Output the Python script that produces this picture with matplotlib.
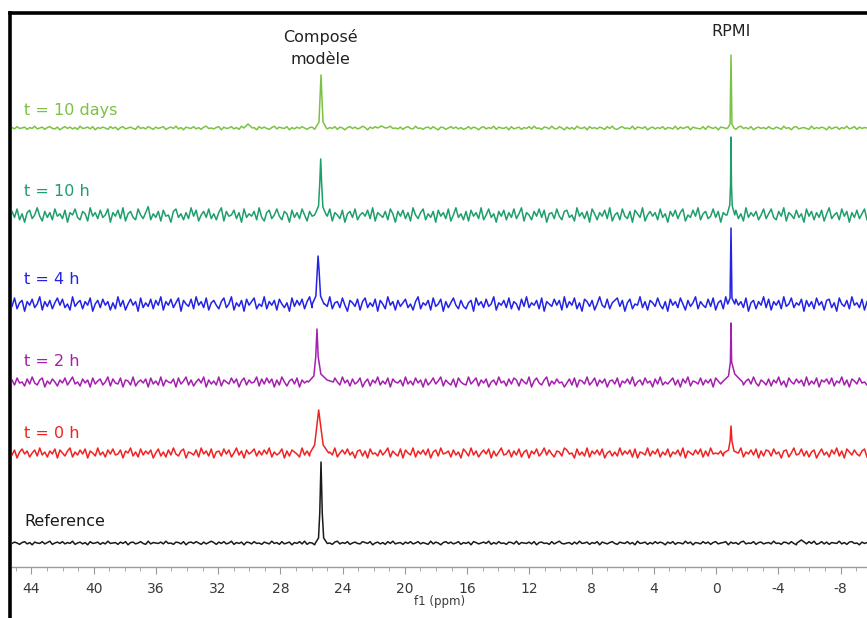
import numpy as np
import matplotlib
matplotlib.use("Agg")
import matplotlib.pyplot as plt
from matplotlib.lines import Line2D

plt.rcParams['axes.unicode_minus'] = False

# ppm window shown on the axis
ppm_left, ppm_right = 45.25, -9.7

labels = ['t = 10 days', 't = 10 h', 't = 4 h', 't = 2 h', 't = 0 h', 'Reference']
colors = ['#7cc242', '#1e9e6a', '#2323e6', '#a41fae', '#f02222', '#1a1a1a']
offsets = [439, 352, 263, 185, 114, 24]          # vertical stacking of the spectra
label_y = [457, 375, 287, 205, 134, 45]
noise_unit = [0.45, 1.2, 1.2, 1.0, 1.0, 0.45]    # size of one noise step per trace

# baseline noise read (roughly) off each trace
noise_10d = [1, -2, 3, -1, 0, 2, -3, 1, -1, 4, -2, 0, 2, -3, 1, 3, -1, -2, 2, -4,
             0, 3, -1, 2, -2, 1, -3, 4, -1, 0, 2, -2, 3, -4, 1, -1, 2, 0, -3, 3,
             -1, 2, -4, 1, 3, -2, 0, 2, -1, -3, 4, -1, 1, -2, 3, 0, -3, 2, -1, 1,
             3, -3, 0, 2, -1, 4, -2, 1, -4, 2, 0, -1, 3, -2, 1, -3, 2, 4, -1, 0,
             -2, 1, 3, -4, 2, -1, 0, 3, -2, 1, -3, 4, -1, 2, 0, -2, 1, -4, 3, -1,
             2, -1, -3, 1, 4, -2, 2, 0, -1, 3, -4, 1, -2, 2, -1, 3, 0, -3, 1, 2,
             -3, 4, -1, 0, 2, -2, 1, -1, 3, -3, 2, 0, -4, 1, 3, -1, 2, -2, 0, 4,
             1, -4, 2, -1, 3, 0, -2, 2, -3, 1, 4, -1, 0, -2, 2, -3, 1, 3, -1, -2,
             4, -1, 0, -3, 1, 2, -2, 3, -1, -4, 2, 1, -3, 0, 3, -1, 2, -2, 1, -3,
             -1, 3, -2, 2, 0, -4, 1, 3, -2, 1, -1, 4, -3, 2, 0, -1, 2, -4, 3, -2,
             0, 2, -3, 1, -1, 3, -2, 4, -1, 0, -3, 2, 1, -2, 4, -1, -2, 3, 0, -4,
             2, -2, 1, -3, 4, 0, -1, 2, -4, 3, -1, 1, -2, 2, 0, -3, 3, -1, 4, -2,
             -3, 1, 3, -1, 0, -2, 4, -3, 2, 1, -1, 3, -4, 0, 2, -2, 1, -1, 3, -3,
             1, 0, -2, 4, -3, 2, -1, 1, 3, -4, 2, 0, -1, -2, 3, -3, 4, 1, -1, 2,
             -4, 2, 1, -1, 3, -2, 0, -3, 2, 4, -1, 1, -2, 3, -4, 0, 2, -1, 1, -2,
             3, -1, -2, 2, 0, -3, 4, -1, 1, -4, 2, 3, -2, 0, 1, -1, -3, 4, -2, 1,
             -1, 2, 0, -4, 3, -2, 1, 2, -3, 1, -1, 4, -2, 0, 3, -3, 2, -1, 1, 0]
noise_10h = [3, -2, 5, -4, 1, -6, 2, 4, -3, 0, 6, -1, -5, 3, -2, 2, -4, 5, -1, 1,
             -3, 4, -6, 2, 0, 5, -2, -4, 3, 1, -5, 6, -1, 2, -3, 4, -2, 0, 5, -6,
             2, -1, 4, -3, 6, -5, 1, 3, -2, -4, 5, 0, -3, 2, 7, -4, 1, -2, 3, -5,
             4, -1, 0, -6, 3, 5, -2, 1, -4, 2, -3, 6, -1, 4, -5, 0, 3, -2, 5, -3,
             1, -4, 2, 6, -5, 3, -1, 0, 4, -3, 2, -6, 5, -2, 1, -1, 3, -4, 6, -2,
             -5, 2, 4, -3, 0, 5, -1, -4, 3, 1, -6, 4, -2, 2, -3, 5, 0, -5, 3, -1,
             6, -2, 1, -4, 3, -1, 5, -5, 2, 0, -3, 4, -6, 1, 3, -2, 5, -4, 0, 2,
             -1, 4, -3, 6, -5, 2, 0, -2, 3, -4, 5, 1, -6, 3, -1, 4, -3, 2, -5, 6,
             0, -3, 2, 5, -4, 1, -2, 3, -6, 4, -1, 2, -3, 5, -5, 0, 6, -2, 1, -4,
             3, -5, 4, -1, 2, -3, 6, -4, 0, 5, -2, 1, -6, 3, -1, 4, -4, 2, -2, 5,
             -3, 1, 6, -5, 2, 0, -4, 3, -1, 5, -2, 4, -6, 1, 2, -3, 5, -1, -4, 3,
             4, -2, 0, -5, 6, -1, 2, -3, 3, -6, 5, 1, -4, 2, -1, 4, -3, 6, -5, 0,
             2, -4, 5, -1, -3, 3, -6, 4, 1, -2, 6, -5, 0, 3, -1, 2, -4, 5, -2, 1,
             -6, 3, -1, 4, -3, 2, 5, -5, 0, -2, 4, -1, 6, -4, 1, 3, -3, -1, 5, -2,
             3, -6, 2, 0, -4, 5, -1, 4, -3, 1, -5, 6, -2, 2, -1, 3, -4, 0, 5, -3,
             1, 5, -2, -4, 3, -1, 6, -5, 2, 0, -3, 4, -2, 1, -6, 5, -1, 3, -4, 2,
             -2, 4, -5, 1, 6, -3, 0, 2, -4, 5, -1, 3, -6, 2, -2, 4, -3, 1, 5, -4]
noise_4h = [-2, 5, -4, 1, 3, -6, 2, -1, 4, -3, 0, 6, -5, 2, -2, 3, -4, 1, 5, -1,
            4, -3, 0, -5, 6, -2, 1, 3, -4, 2, -1, 5, -6, 0, 3, -3, 4, -1, 2, -5,
            1, -4, 6, -2, 3, -5, 0, 4, -1, 2, -6, 5, -3, 1, -2, 4, -4, 3, -1, 6,
            -5, 2, -1, 4, -3, 1, 5, -6, 3, 0, -2, 4, -4, 6, -1, 2, -3, 5, -5, 1,
            3, -1, -4, 2, 5, -3, 0, 6, -5, 1, -2, 3, -6, 4, -1, 2, 5, -4, 0, -2,
            6, -4, 2, -1, 3, -5, 4, 0, -3, 1, -6, 5, -2, 3, -1, 4, -4, 2, 6, -3,
            -1, 3, -5, 4, 0, -2, 6, -4, 1, 2, -3, 5, -1, -6, 3, 1, -2, 4, -5, 2,
            5, -3, 1, -2, 4, -6, 3, 0, -4, 6, -1, 2, -5, 3, -2, 1, 4, -3, 0, -5,
            2, 6, -4, 1, -1, 3, -5, 5, -2, 0, 4, -6, 2, -3, 1, 5, -1, -4, 3, -2,
            -4, 1, 3, -6, 5, -1, 2, -3, 4, -2, 0, 6, -5, 1, -1, 3, -3, 5, -4, 2,
            0, -5, 4, -2, 6, -3, 1, -1, 3, -4, 5, -6, 2, 0, -2, 4, -1, 3, -5, 6,
            -3, 2, -1, 5, -4, 1, -6, 4, 2, -2, 3, -5, 0, 6, -1, -3, 4, -4, 1, 3,
            5, -2, 3, -6, 1, 4, -4, 0, -1, 6, -3, 2, -5, 3, 1, -2, 5, -1, -4, 2,
            -6, 4, -1, 2, -3, 5, 0, -5, 3, -2, 1, 6, -4, 2, -1, -3, 4, -2, 5, -5,
            1, 3, -4, 6, -2, 0, -5, 4, -1, 2, -3, 5, -6, 1, 3, -4, 2, -1, 6, -3,
            4, -5, 2, -1, 3, -4, 6, -2, 0, 5, -3, 1, -1, 4, -6, 3, -2, 2, -4, 5,
            -1, 2, -5, 3, 4, -3, 1, -6, 5, 0, -2, 3, -4, 6, -1, 1, -3, 4, -5, 2]
noise_2h = [2, -3, 4, -1, 0, -4, 3, -2, 5, -1, -3, 2, 4, -5, 1, -2, 3, 0, -4, 2,
            -1, 4, -3, 1, 5, -2, 0, -4, 3, -1, 2, -5, 4, -2, 1, 3, -3, 0, 5, -4,
            3, -1, -2, 4, -5, 2, 1, -3, 5, -4, 0, 2, -1, 3, -5, 4, -2, 1, -3, 5,
            -4, 2, 0, -1, 3, -5, 4, -2, 1, 5, -3, 2, -4, 0, 3, -1, 5, -5, 2, -2,
            1, -3, 5, -4, 2, 0, -2, 4, -1, 3, -5, 1, 4, -3, 2, -1, 0, 5, -4, 3,
            -2, 4, -1, 3, -5, 2, -3, 5, 0, -4, 1, 3, -2, 4, -5, 2, -1, 1, 3, -3,
            5, -2, 1, -4, 3, -1, 2, -5, 4, 0, -3, 5, -1, 2, -4, 3, -2, 0, 4, -5,
            0, 3, -4, 2, -1, 5, -3, 1, -2, 4, -5, 3, 0, -1, 2, -4, 5, -2, 1, -3,
            4, -1, 2, -5, 3, -3, 0, 4, -2, 1, 5, -4, 2, -1, -3, 3, -5, 4, 0, -2,
            -3, 5, -2, 1, 4, -4, 2, -1, 3, -5, 0, 2, -3, 5, -1, 1, -4, 3, -2, 4,
            2, -4, 3, 0, -2, 5, -5, 1, 4, -1, -3, 2, 5, -4, 1, -2, 3, -1, 0, -5,
            -1, 3, -3, 4, -5, 2, 1, -2, 5, -3, 0, 4, -4, 2, -1, 3, -5, 1, 2, -2,
            4, -5, 1, -1, 3, -2, 5, -4, 0, 2, -3, 4, -1, 1, -5, 3, -2, 5, -3, 0,
            -2, 1, 4, -3, 2, -5, 3, -1, 5, -4, 1, 0, -2, 4, -3, 2, -1, 3, -5, 4,
            1, -2, 5, -4, 0, 3, -1, 2, -5, 4, -3, 1, 3, -2, 5, -1, -4, 2, 0, -3,
            3, -4, 2, -1, 5, -3, 1, -5, 4, 0, -2, 3, -1, 2, -4, 5, -3, 1, -2, 4,
            -5, 2, 0, 3, -2, 4, -4, 1, -1, 5, -3, 2, -5, 3, 1, -2, 4, -1, 0, -3]
noise_0h = [-2, 3, -5, 1, 4, -1, 2, -4, 0, 3, -3, 5, -2, 1, -4, 2, -1, 4, -5, 3,
            0, -3, 2, 5, -4, 1, -2, 3, -1, 4, -5, 2, 0, -3, 5, -2, 1, -4, 3, -1,
            4, -2, -1, 3, -5, 2, 0, 5, -3, 1, -4, 4, -2, 2, -1, 3, -5, 0, 4, -3,
            1, -4, 3, -2, 5, -1, -3, 2, 4, -5, 1, 0, -2, 3, -4, 5, -1, 2, -3, 4,
            -5, 1, 2, -3, 4, -1, 3, -4, 0, 5, -2, 2, -5, 3, -1, 1, 4, -3, 2, -2,
            3, -1, 5, -4, 1, -2, 0, 4, -5, 2, -3, 3, 1, -1, -4, 5, -2, 2, -3, 0,
            -1, 4, -3, 2, -5, 3, 1, -2, 5, -4, 0, 3, -1, 4, -2, 1, -5, 2, 3, -3,
            2, -5, 4, -1, 0, -3, 3, -2, 1, 5, -4, 2, -1, -3, 4, -5, 3, 0, -2, 5,
            -4, 2, -1, 3, -2, 4, -5, 1, 3, -3, 5, -1, 0, 2, -4, 3, -2, 1, -5, 4,
            1, -3, 5, -2, 2, -4, 0, 3, -1, 4, -5, 2, -3, 1, 5, -2, -1, 3, -4, 2,
            -2, 4, -4, 1, 3, -5, 2, -1, 4, -3, 0, 5, -2, 3, -1, -4, 2, 1, -3, 5,
            3, -1, 0, -5, 4, -2, 1, -3, 5, -4, 2, -1, 3, -2, 4, -5, 0, 2, -3, 1,
            -3, 5, -2, 2, -1, 3, -4, 4, -5, 1, 0, -2, 5, -3, 2, -1, 4, -4, 1, -2,
            4, -4, 1, -1, 3, -3, 5, -5, 2, 0, -2, 3, -1, 4, -4, 2, -3, 5, -1, 0,
            -1, 2, -3, 4, -5, 1, 3, -2, 0, 5, -4, 1, -1, 3, -2, 4, -5, 2, -3, 3,
            2, -3, 4, -1, 1, -5, 2, 3, -4, 0, 5, -2, -1, 4, -3, 2, -4, 1, 3, -5,
            0, 4, -2, 1, -4, 3, -1, 5, -3, 2, -5, 4, 1, -2, 3, -1, -3, 2, 4, -4]
noise_ref = [-1, 2, 0, -3, 1, 3, -2, 1, -4, 2, 0, -1, 3, -2, 1, 4, -3, 0, 2, -1,
             3, -2, 1, -1, 4, -3, 0, 2, -2, 1, -4, 3, -1, 0, 2, -3, 1, -2, 4, -1,
             0, 1, -3, 2, -1, 3, -4, 1, 2, -2, 0, 3, -1, -3, 4, -2, 1, 0, -1, 2,
             -2, 4, -1, 0, -3, 2, 1, -2, 3, -4, 1, 2, -1, 3, 0, -3, 2, -2, 1, 4,
             1, -3, 2, -1, 3, -2, 0, 4, -3, 1, -1, 2, -4, 2, 1, -2, 3, -1, 0, -3,
             2, 0, -2, 4, -1, 1, -3, 3, -2, 0, 2, -4, 1, -1, 3, -2, 4, -3, 1, 0,
             -4, 2, 1, -2, 3, -1, 0, -3, 2, 4, -2, 1, -1, 3, -3, 0, 2, -1, -2, 3,
             1, -1, 3, -4, 0, 2, -2, 1, -3, 3, -1, 4, -2, 0, 1, -3, 2, -1, 3, -2,
             0, 3, -2, 1, -1, -3, 4, -2, 2, 0, -4, 1, 3, -1, 2, -2, 0, 3, -3, 1,
             -1, 2, -4, 3, 1, -2, 0, 2, -1, 4, -3, 1, -2, 3, -1, 0, -3, 2, 1, -2,
             4, -3, 1, 0, -1, 2, -2, 3, -4, 1, 2, -1, 0, -3, 3, -2, 1, 4, -1, -2,
             0, 1, -3, 2, -2, 4, -1, 0, 2, -3, 1, -1, 3, -4, 2, 0, -2, 1, 3, -1,
             -3, 2, 0, -1, 3, -2, 1, -4, 4, -1, 0, 2, -3, 1, -2, 3, -1, 2, 0, -4,
             2, -1, 3, -3, 1, 0, -2, 4, -1, 2, -4, 1, 0, -2, 3, -1, 2, -3, 1, 3,
             -2, 0, 1, 3, -4, 2, -1, 1, -3, 2, 4, -2, 0, -1, 3, -3, 1, 2, -2, 0,
             1, -2, 4, -1, 0, -3, 2, 1, -2, 3, -1, -4, 2, 0, 1, -2, 3, -1, 4, -3,
             -1, 3, -2, 2, -3, 1, 0, -1, 4, -2, 1, -3, 2, 3, -1, 0, -4, 2, -1, 1]

# peaks as (ppm, height above baseline) points
peaks_10d = [[(25.75, 0), (25.52, 6), (25.45, 30), (25.39, 53), (25.33, 30), (25.26, 6), (25.05, 0)],
             [(-0.75, 0), (-0.9, 4), (-0.96, 73), (-1.02, 4), (-1.15, 0)],
             [(30.35, 0), (30.08, 4), (29.8, 0)],
             [(21.75, 0), (21.5, 2), (21.25, 0)]]
peaks_10h = [[(25.8, 0), (25.55, 9), (25.47, 32), (25.41, 56), (25.35, 32), (25.27, 8), (25.05, 0)],
             [(-0.7, 0), (-0.88, 10), (-0.93, 30), (-0.96, 78), (-0.99, 30), (-1.04, 9), (-1.2, 0)]]
peaks_4h = [[(25.95, 0), (25.72, 8), (25.63, 35), (25.58, 48), (25.52, 35), (25.42, 8), (25.2, 0)],
            [(-0.75, 0), (-0.9, 6), (-0.96, 76), (-1.02, 6), (-1.2, 0)]]
peaks_2h = [[(26.2, 0), (25.85, 6), (25.73, 25), (25.65, 53), (25.57, 25), (25.4, 8), (25.0, 2), (24.6, 0)],
            [(-0.4, 0), (-0.8, 6), (-0.92, 20), (-0.96, 59), (-1.0, 20), (-1.2, 8), (-1.7, 0)]]
peaks_0h = [[(26.1, 0), (25.8, 8), (25.65, 28), (25.54, 43), (25.42, 28), (25.25, 8), (24.9, 0)],
            [(-0.5, 0), (-0.8, 3), (-0.9, 12), (-0.96, 27), (-1.02, 12), (-1.15, 2), (-1.4, 0)]]
peaks_ref = [[(25.75, 0), (25.55, 5), (25.47, 30), (25.39, 81), (25.31, 30), (25.22, 5), (25.0, 0)],
             [(-5.2, 0), (-5.48, 3), (-5.75, 0)]]

noises = [noise_10d, noise_10h, noise_4h, noise_2h, noise_0h, noise_ref]
peaks = [peaks_10d, peaks_10h, peaks_4h, peaks_2h, peaks_0h, peaks_ref]


def build_trace(noise, unit, pk_list):
    x = np.linspace(ppm_left, ppm_right, len(noise))
    y = np.array(noise, dtype=float) * unit
    for pk in pk_list:
        px, py = np.array(pk, dtype=float).T
        keep = (x > px.max()) | (x < px.min())
        x = np.concatenate([x[keep], px])
        y = np.concatenate([y[keep], py])
        order = np.argsort(-x)
        x, y = x[order], y[order]
    return x, y


W, H = 867, 618
fig = plt.figure(figsize=(W / 100, H / 100), dpi=100)
ax = fig.add_axes([12 / W, (H - 567) / H, 855 / W, 552 / H])

for lab, col, off, ly, nz, u, pk in zip(labels, colors, offsets, label_y, noises, noise_unit, peaks):
    x, y = build_trace(nz, u, pk)
    ax.plot(x, y + off, color=col, lw=1.1)
    ax.text(44.45, ly, lab, color=col, fontsize=11.5, ha='left', va='center')

ax.text(25.4, 530, 'Composé', fontsize=11.5, ha='center', va='center', color='#222222')
ax.text(25.4, 508, 'modèle', fontsize=11.5, ha='center', va='center', color='#222222')
ax.text(-0.96, 536, 'RPMI', fontsize=11.5, ha='center', va='center', color='#222222')

ax.set_xlim(ppm_left, ppm_right)
ax.set_ylim(0, 552)
ax.set_xticks(np.arange(44, -9, -4))
ax.set_xticks(np.arange(45, -10, -1), minor=True)
ax.set_yticks([])
for s in ['left', 'right', 'top']:
    ax.spines[s].set_visible(False)
ax.spines['bottom'].set_color('#9a9a9a')
ax.spines['bottom'].set_linewidth(1.0)
ax.tick_params(axis='x', which='major', length=5, color='#9a9a9a', labelsize=10,
               labelcolor='#3a3a3a', pad=6)
ax.tick_params(axis='x', which='minor', length=3, color='#9a9a9a')
ax.set_xlabel('f1 (ppm)', fontsize=8.5, color='#3a3a3a', labelpad=-1)

# black frame on left and top of the picture
fig.add_artist(Line2D([10 / W, 10 / W], [0, 1 - 13 / H], color='black', lw=2.6,
                      transform=fig.transFigure, solid_capstyle='projecting'))
fig.add_artist(Line2D([10 / W, 1], [1 - 13 / H, 1 - 13 / H], color='black', lw=2.6,
                      transform=fig.transFigure, solid_capstyle='projecting'))

fig.savefig('out.png', dpi=100)
